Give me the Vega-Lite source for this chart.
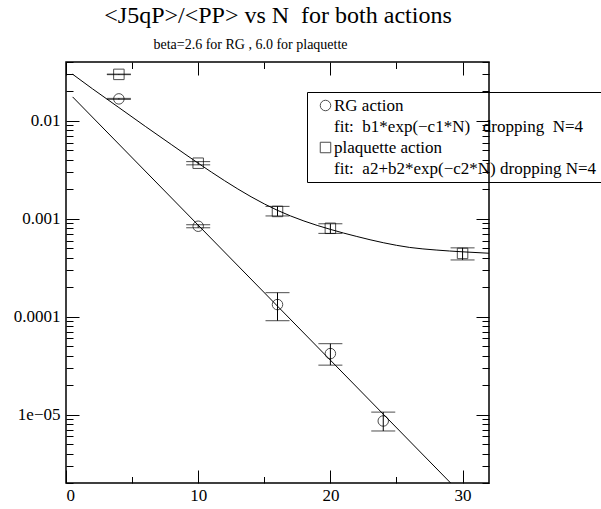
{
  "$schema": "https://vega.github.io/schema/vega-lite/v6.json",
  "autosize": "none",
  "padding": {"left": 66, "top": 62, "right": 112, "bottom": 26},
  "width": 423,
  "height": 421,
  "background": "white",
  "config": {
    "view": {"stroke": "black", "strokeWidth": 1.5},
    "font": "Liberation Serif, Times New Roman, serif",
    "axis": {"domain": false, "grid": false, "tickColor": "black", "tickWidth": 1, "labelColor": "black", "labelFont": "Liberation Serif, Times New Roman, serif", "labelFontSize": 17}
  },
  "datasets": {
    "points": [
      {"series": "RG action", "N": 4, "value": 0.0168, "lower": 0.0166, "upper": 0.0170},
      {"series": "RG action", "N": 10, "value": 0.00084, "lower": 0.00081, "upper": 0.00087},
      {"series": "RG action", "N": 16, "value": 0.000133, "lower": 0.000091, "upper": 0.000176},
      {"series": "RG action", "N": 20, "value": 0.000042, "lower": 0.000032, "upper": 0.000053},
      {"series": "RG action", "N": 24, "value": 0.0000086, "lower": 0.0000068, "upper": 0.0000106},
      {"series": "plaquette action", "N": 4, "value": 0.0299, "lower": 0.0297, "upper": 0.0301},
      {"series": "plaquette action", "N": 10, "value": 0.0037, "lower": 0.00356, "upper": 0.00384},
      {"series": "plaquette action", "N": 16, "value": 0.00119, "lower": 0.00107, "upper": 0.00134},
      {"series": "plaquette action", "N": 20, "value": 0.0008, "lower": 0.00071, "upper": 0.00089},
      {"series": "plaquette action", "N": 30, "value": 0.000443, "lower": 0.00038, "upper": 0.000505}
    ],
    "fits": [
      {"fit": "RG", "N": 0.5, "value": 0.0176},
      {"fit": "RG", "N": 29.1, "value": 0.000002},
      {"fit": "plaquette", "N": 0.5, "value": 0.03},
      {"fit": "plaquette", "N": 2, "value": 0.0213},
      {"fit": "plaquette", "N": 4, "value": 0.0137},
      {"fit": "plaquette", "N": 6, "value": 0.0088},
      {"fit": "plaquette", "N": 8, "value": 0.0057},
      {"fit": "plaquette", "N": 10, "value": 0.0037},
      {"fit": "plaquette", "N": 12, "value": 0.00245},
      {"fit": "plaquette", "N": 14, "value": 0.00168},
      {"fit": "plaquette", "N": 16, "value": 0.00122},
      {"fit": "plaquette", "N": 18, "value": 0.00095},
      {"fit": "plaquette", "N": 20, "value": 0.00078},
      {"fit": "plaquette", "N": 22, "value": 0.00066},
      {"fit": "plaquette", "N": 24, "value": 0.00057},
      {"fit": "plaquette", "N": 26, "value": 0.00051},
      {"fit": "plaquette", "N": 28, "value": 0.00048},
      {"fit": "plaquette", "N": 30, "value": 0.00046},
      {"fit": "plaquette", "N": 32, "value": 0.000445}
    ]
  },
  "layer": [
    {
      "data": {"name": "fits"},
      "mark": {"type": "line", "color": "black", "strokeWidth": 1, "clip": true, "interpolate": "monotone"},
      "encoding": {
        "x": {"field": "N", "type": "quantitative", "scale": {"domain": [0, 32], "nice": false, "zero": false},
              "axis": {"orient": "bottom", "values": [0, 10, 20, 30], "tickSize": -13, "labelPadding": 17, "title": null, "format": "d", "labelBaseline": "top"}},
        "y": {"field": "value", "type": "quantitative", "scale": {"type": "log", "domain": [0.000002, 0.04], "nice": false},
              "axis": {"orient": "left", "values": [0.00001, 0.0001, 0.001, 0.01], "tickSize": -13, "labelPadding": 19, "title": null,
                       "labelExpr": "datum.value > 0.005 ? '0.01' : datum.value > 0.0005 ? '0.001' : datum.value > 0.00005 ? '0.0001' : '1e−05'"}},
        "detail": {"field": "fit", "type": "nominal"}
      }
    },
    {
      "data": {"name": "points"},
      "mark": {"type": "rule", "color": "black", "strokeWidth": 1},
      "encoding": {
        "x": {"field": "N", "type": "quantitative", "scale": {"domain": [0, 32], "nice": false, "zero": false},
              "axis": {"orient": "top", "values": [0, 10, 20, 30], "tickSize": -13, "labels": false,
                       "title": "beta=2.6 for RG , 6.0 for plaquette", "titleFont": "Liberation Serif, Times New Roman, serif",
                       "titleFontSize": 14, "titleFontWeight": "normal", "titleColor": "black",
                       "titleX": 184, "titleY": -14, "titleAlign": "center", "titleBaseline": "alphabetic", "titleAngle": 0}},
        "y": {"field": "lower", "type": "quantitative", "scale": {"type": "log", "domain": [0.000002, 0.04], "nice": false},
              "axis": {"orient": "right", "values": [0.00001, 0.0001, 0.001, 0.01], "tickSize": -13, "labels": false, "title": null}},
        "y2": {"field": "upper"}
      }
    },
    {
      "data": {"name": "points"},
      "mark": {"type": "tick", "orient": "horizontal", "color": "black", "size": 24, "thickness": 1},
      "encoding": {
        "x": {"field": "N", "type": "quantitative", "scale": {"domain": [0, 32], "nice": false, "zero": false},
              "axis": {"orient": "bottom", "values": [5, 15, 25], "tickSize": -6.5, "labels": false, "title": null}},
        "y": {"field": "upper", "type": "quantitative", "scale": {"type": "log", "domain": [0.000002, 0.04], "nice": false},
              "axis": {"orient": "left", "values": [0.000002, 0.000003, 0.000004, 0.000005, 0.000006, 0.000007, 0.000008, 0.000009, 0.00002, 0.00003, 0.00004, 0.00005, 0.00006, 0.00007, 0.00008, 0.00009, 0.0002, 0.0003, 0.0004, 0.0005, 0.0006, 0.0007, 0.0008, 0.0009, 0.002, 0.003, 0.004, 0.005, 0.006, 0.007, 0.008, 0.009, 0.02, 0.03, 0.04], "tickSize": -7, "labels": false, "title": null}}
      }
    },
    {
      "data": {"name": "points"},
      "mark": {"type": "tick", "orient": "horizontal", "color": "black", "size": 24, "thickness": 1},
      "encoding": {
        "x": {"field": "N", "type": "quantitative", "scale": {"domain": [0, 32], "nice": false, "zero": false},
              "axis": {"orient": "top", "values": [5, 15, 25], "tickSize": -6.5, "labels": false,
                       "title": "<J5qP>/<PP> vs N\u00a0 for both actions", "titleFont": "Liberation Serif, Times New Roman, serif",
                       "titleFontSize": 24, "titleFontWeight": "normal", "titleColor": "black",
                       "titleX": 211.5, "titleY": -40, "titleAlign": "center", "titleBaseline": "alphabetic", "titleAngle": 0}},
        "y": {"field": "lower", "type": "quantitative", "scale": {"type": "log", "domain": [0.000002, 0.04], "nice": false},
              "axis": {"orient": "right", "values": [0.000002, 0.000003, 0.000004, 0.000005, 0.000006, 0.000007, 0.000008, 0.000009, 0.00002, 0.00003, 0.00004, 0.00005, 0.00006, 0.00007, 0.00008, 0.00009, 0.0002, 0.0003, 0.0004, 0.0005, 0.0006, 0.0007, 0.0008, 0.0009, 0.002, 0.003, 0.004, 0.005, 0.006, 0.007, 0.008, 0.009, 0.02, 0.03, 0.04], "tickSize": -7, "labels": false, "title": null}}
      }
    },
    {
      "data": {"name": "points"},
      "mark": {"type": "point", "filled": false, "color": "black", "strokeWidth": 1, "size": 110},
      "encoding": {
        "x": {"field": "N", "type": "quantitative", "scale": {"domain": [0, 32], "nice": false, "zero": false}, "axis": null},
        "y": {"field": "value", "type": "quantitative", "scale": {"type": "log", "domain": [0.000002, 0.04], "nice": false}, "axis": null},
        "shape": {
          "field": "series", "type": "nominal",
          "scale": {
            "domain": ["RG action", "fit:\u00a0 b1*exp(−c1*N)\u00a0\u00a0 dropping\u00a0 N=4", "plaquette action", "fit:\u00a0 a2+b2*exp(−c2*N) dropping N=4"],
            "range": ["circle", "M0,0", "square", "M0,0"]
          },
          "legend": {
            "orient": "none", "legendX": 241, "legendY": 30, "title": null,
            "strokeColor": "black", "padding": 5, "symbolOffset": 5,
            "labelFont": "Liberation Serif, Times New Roman, serif", "labelFontSize": 17, "labelColor": "black", "labelLimit": 400,
            "symbolStrokeColor": "black", "symbolFillColor": "transparent", "symbolStrokeWidth": 1, "symbolSize": 110,
            "rowPadding": 3, "labelOffset": 0
          }
        }
      }
    }
  ],
  "resolve": {"axis": {"x": "independent", "y": "independent"}}
}
